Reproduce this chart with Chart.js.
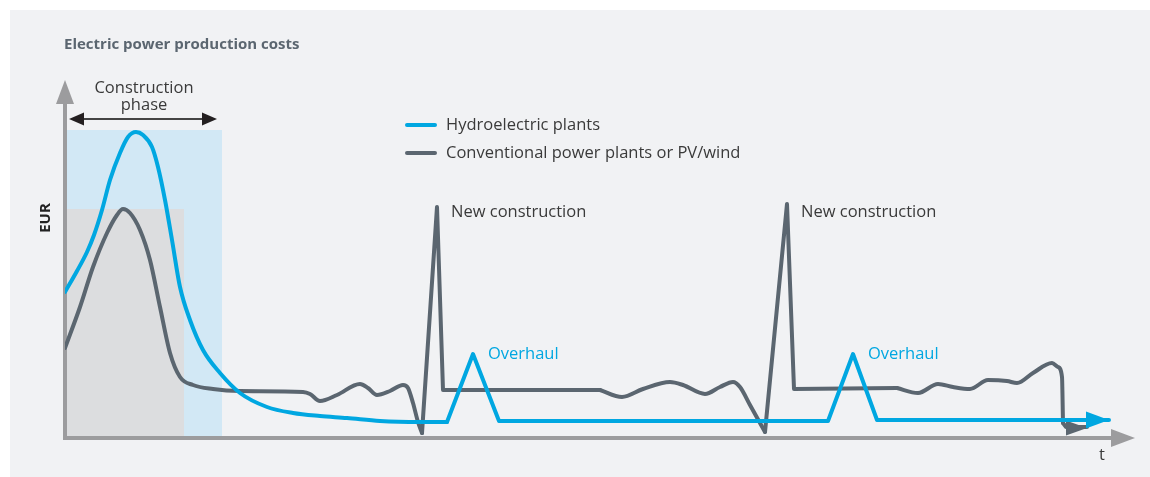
<!DOCTYPE html>
<html>
<head>
<meta charset="utf-8">
<script src="https://cdn.jsdelivr.net/npm/chart.js@4"></script>
<style>
  html, body { margin: 0; padding: 0; background: #fff; }
  #wrap { position: relative; width: 1150px; height: 477px; }
  #panel { position: absolute; left: 10px; top: 10px; width: 1140px; height: 467px; background: #f1f2f4; }
  #chart-costs { position: absolute; left: 0; top: 0; }
</style>
</head>
<body>
<div id="wrap">
  <div id="panel"></div>
  <canvas id="chart-costs" width="1150" height="477"></canvas>
</div>
<script>
// Life-cycle cost profile: hydro vs conventional plants (schematic, no units)
const hydroT    = [0, 12, 22, 29, 37, 45, 55, 63, 71, 78, 87, 93, 100, 107, 115, 125, 138, 155, 175, 202, 228, 255, 282, 315, 355, 382, 408, 434, 763, 788, 812, 1044];
const hydroCost = [146, 167, 186, 203, 228, 258, 285, 301, 306, 303, 291, 271, 238, 198, 151, 118, 88, 65, 45, 31, 25, 22, 20, 17, 16, 16, 84, 17, 17, 84, 18, 18];

const convT    = [0, 15, 28, 42, 52, 58, 65, 75, 85, 95, 105, 115, 128, 148, 175, 238, 245, 255, 272, 295, 303, 312, 325, 338, 343, 348, 353, 357, 372, 378, 535, 557, 578, 605, 618, 640, 655, 668, 675, 685, 700, 722, 729, 832, 853, 873, 888, 905, 923, 942, 952, 968, 987, 993, 997, 998, 1001, 1022];
const convCost = [90, 131, 171, 205, 223, 229, 225, 208, 178, 131, 85, 61, 53, 49, 47, 46, 44, 37, 43, 54, 50, 43, 47, 53, 50, 35, 16, 5, 231, 48, 48, 41, 49, 56, 53, 44, 51, 56, 51, 33, 6, 234, 49, 50, 45, 54, 51, 49, 58, 57, 55, 65, 75, 71, 61, 15, 11, 11];

// index ranges of each line: smooth stretches vs sharp spikes
const hydroPieces = [[0, 25, true], [25, 31, false]];
const convPieces  = [[0, 27, true], [27, 30, false], [30, 40, true], [40, 43, false], [43, 55, true], [55, 57, false]];

// shaded construction phases [tEnd, costTop]
const hydroPhase = [157, 308];
const convPhase  = [119, 229];

const BLUE = '#00a7e1';
const GREY = '#5b6670';
const AXIS = '#9c9c9e';
const TEXT = '#3a3a3a';
const FONT = '"Open Sans", sans-serif';

function buildPieces(label, ts, vs, pieces, color) {
    return pieces.map(([from, to, smooth], i) => ({
        label,
        data: ts.slice(from, to + 1).map((t, k) => ({ x: t, y: vs[from + k] })),
        borderColor: color,
        borderWidth: 4,
        pointRadius: 0,
        tension: smooth ? 0.4 : 0,
        cubicInterpolationMode: smooth ? 'monotone' : 'default',
        borderJoinStyle: 'round',
        borderCapStyle: 'round',
        arrow: i === pieces.length - 1,
    }));
}

function arrowHead(ctx, x, y, len, half, color, dir) {
    ctx.save();
    ctx.fillStyle = color;
    ctx.beginPath();
    if (dir === 'up') {
        ctx.moveTo(x, y);
        ctx.lineTo(x - half, y + len);
        ctx.lineTo(x + half, y + len);
    } else if (dir === 'left') {
        ctx.moveTo(x, y);
        ctx.lineTo(x + len, y - half);
        ctx.lineTo(x + len, y + half);
    } else {
        ctx.moveTo(x, y);
        ctx.lineTo(x - len, y - half);
        ctx.lineTo(x - len, y + half);
    }
    ctx.closePath();
    ctx.fill();
    ctx.restore();
}

const backdrop = {
    id: 'backdrop',
    beforeDatasetsDraw(chart) {
        const { ctx, chartArea: a, scales: { x, y } } = chart;
        const y0 = y.getPixelForValue(0);
        ctx.save();
        ctx.fillStyle = '#d2e8f5';
        ctx.fillRect(a.left, y.getPixelForValue(hydroPhase[1]), x.getPixelForValue(hydroPhase[0]) - a.left, y0 - y.getPixelForValue(hydroPhase[1]));
        ctx.fillStyle = '#dcdddf';
        ctx.fillRect(a.left, y.getPixelForValue(convPhase[1]), x.getPixelForValue(convPhase[0]) - a.left, y0 - y.getPixelForValue(convPhase[1]));

        // axes with arrows
        ctx.strokeStyle = AXIS;
        ctx.lineWidth = 4;
        ctx.beginPath();
        ctx.moveTo(a.left, y0 + 2);
        ctx.lineTo(a.left, a.top + 20);
        ctx.moveTo(a.left - 2, y0);
        ctx.lineTo(a.right - 20, y0);
        ctx.stroke();
        arrowHead(ctx, a.left, a.top, 24, 9, AXIS, 'up');
        arrowHead(ctx, a.right, y0, 24, 9, AXIS, 'right');
        ctx.restore();
    },
    afterDatasetDraw(chart, args) {
        // arrowhead at the end of each cost line
        const ds = chart.data.datasets[args.index];
        if (!ds.arrow) return;
        const pts = args.meta.data;
        const last = pts[pts.length - 1];
        if (ds.borderColor === BLUE) arrowHead(chart.ctx, last.x, last.y, 23, 8.5, BLUE, 'right');
        else arrowHead(chart.ctx, last.x, last.y + 1, 21, 7.5, GREY, 'right');
    },
    afterDraw(chart) {
        const { ctx, scales: { x } } = chart;
        ctx.save();
        ctx.textBaseline = 'middle';

        ctx.fillStyle = '#5b6670';
        ctx.font = `bold 15px ${FONT}`;
        ctx.textAlign = 'left';
        ctx.fillText('Electric power production costs', 64, 45);

        // construction phase span
        ctx.fillStyle = TEXT;
        ctx.font = `16.5px ${FONT}`;
        ctx.textAlign = 'center';
        ctx.fillText('Construction', 144, 88);
        ctx.fillText('phase', 144, 105);
        ctx.strokeStyle = '#444';
        ctx.lineWidth = 2;
        ctx.beginPath();
        ctx.moveTo(80, 119);
        ctx.lineTo(206, 119);
        ctx.stroke();
        arrowHead(ctx, 69, 119, 15, 6.5, '#231f20', 'left');
        arrowHead(ctx, 217, 119, 15, 6.5, '#231f20', 'right');

        // legend
        const legend = [['Hydroelectric plants', BLUE, 125], ['Conventional power plants or PV/wind', GREY, 153]];
        ctx.lineCap = 'round';
        ctx.lineWidth = 4;
        ctx.textAlign = 'left';
        legend.forEach(([label, color, ly]) => {
            ctx.strokeStyle = color;
            ctx.beginPath();
            ctx.moveTo(407, ly);
            ctx.lineTo(435, ly);
            ctx.stroke();
            ctx.fillStyle = TEXT;
            ctx.fillText(label, 446, ly);
        });

        // peak annotations
        ctx.fillStyle = TEXT;
        [372, 722].forEach(t => ctx.fillText('New construction', x.getPixelForValue(t) + 14, 212));
        ctx.fillStyle = BLUE;
        [408, 788].forEach(t => ctx.fillText('Overhaul', x.getPixelForValue(t) + 15, 354));

        ctx.fillStyle = TEXT;
        ctx.fillText('t', 1099, 455);

        ctx.fillStyle = '#222';
        ctx.font = `bold 15px ${FONT}`;
        ctx.translate(46, 218);
        ctx.rotate(-Math.PI / 2);
        ctx.textAlign = 'center';
        ctx.fillText('EUR', 0, 0);
        ctx.restore();
    }
};

const ctx = document.getElementById('chart-costs').getContext('2d');
new Chart(ctx, {
    type: 'line',
    data: {
        // hydro first so it is painted over the conventional line
        datasets: [
            ...buildPieces('Hydroelectric plants', hydroT, hydroCost, hydroPieces, BLUE),
            ...buildPieces('Conventional power plants or PV/wind', convT, convCost, convPieces, GREY),
        ],
    },
    options: {
        responsive: false,
        animation: false,
        layout: { padding: { left: 65, right: 15, top: 80, bottom: 39 } },
        scales: {
            x: { type: 'linear', display: false, min: 0, max: 1070 },
            y: { type: 'linear', display: false, min: 0, max: 358 },
        },
        plugins: {
            legend: { display: false },
            tooltip: { enabled: false },
        },
    },
    plugins: [backdrop],
});
</script>
</body>
</html>
